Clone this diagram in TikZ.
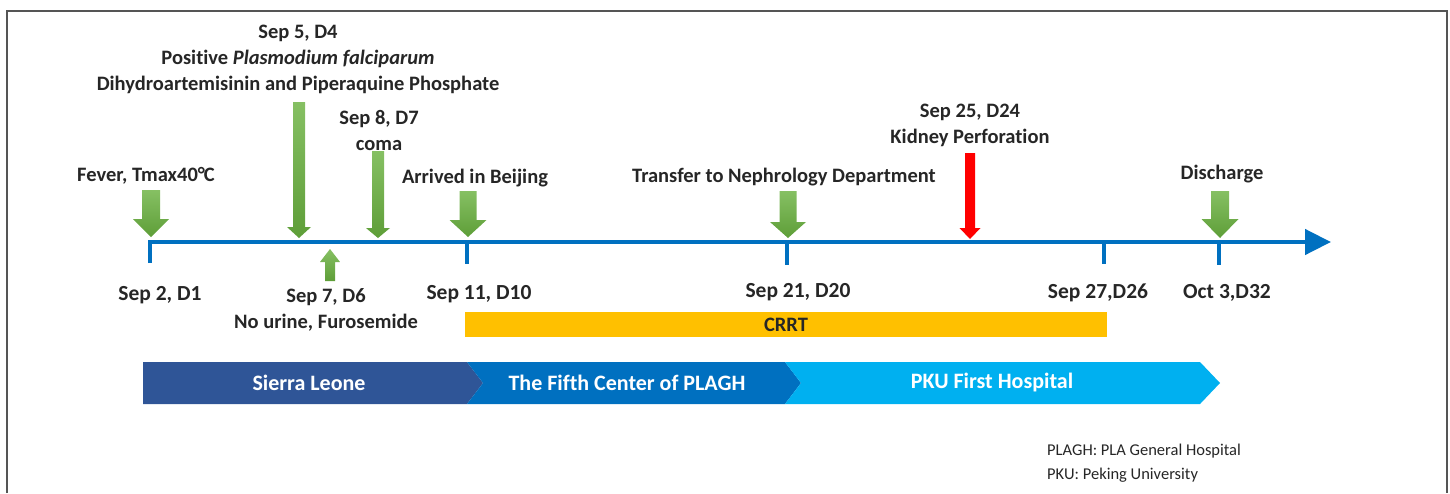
\documentclass[tikz,border=0pt]{standalone}
\usepackage{fontspec}
\setmainfont{Carlito}[Ligatures=NoCommon]
\usetikzlibrary{arrows.meta}
\definecolor{axisblue}{HTML}{0070C0}
\definecolor{darkblue}{HTML}{2F5597}
\definecolor{lightblue}{HTML}{00B0F0}
\definecolor{crrt}{HTML}{FFC000}
\definecolor{gtop}{HTML}{86C063}
\definecolor{gbot}{HTML}{5E9E38}
\definecolor{txt}{HTML}{262626}
\definecolor{framegray}{HTML}{555555}
\newcommand{\blockdown}[6]{({#1-#4},#2) -- ({#1+#4},#2) -- ({#1+#4},{#3-#6}) -- ({#1+#5},{#3-#6}) -- (#1,#3) -- ({#1-#5},{#3-#6}) -- ({#1-#4},{#3-#6}) -- cycle}
\begin{document}
\begin{tikzpicture}[x=1pt,y=-1pt,
  lbl/.style={font=\bfseries\fontsize{20.5}{26}\selectfont, align=center, text=txt, inner sep=0pt},
  datelbl/.style={font=\bfseries\fontsize{21.5}{26}\selectfont, align=center, text=txt, inner sep=0pt},
  legend/.style={font=\fontsize{16.5}{24}\selectfont, align=left, text=txt, inner sep=0pt, anchor=west},
  chevtext/.style={font=\bfseries\fontsize{22}{26}\selectfont, text=white, inner sep=0pt},
  garrow/.style={top color=gtop, bottom color=gbot, draw=none},
  rarrow/.style={fill=red, draw=none},
  axisline/.style={draw=axisblue, line width=4.5pt},
  tickline/.style={draw=axisblue, line width=3.5pt}]
\useasboundingbox (0,0) rectangle (1450,493);
% frame
\draw[framegray, line width=2pt] (7,493) -- (7,11) -- (1447,11) -- (1447,493);
% axis
\coordinate (t1) at (150,242);
\coordinate (t2) at (467,242);
\coordinate (t3) at (787,242);
\coordinate (t4) at (1104,242);
\coordinate (t5) at (1219,242);
\coordinate (axend) at (1331,242);
\draw[axisline, -{Triangle[length=26pt,width=25pt]}, line join=miter] (150,263) -- (t1) -- (axend);
\draw[tickline] (t2) -- ++(0,22);
\draw[tickline] (t3) -- ++(0,23);
\draw[tickline] (t4) -- ++(0,22);
\draw[tickline] (t5) -- ++(0,23);
% event arrows
\path[garrow] \blockdown{151}{190}{237}{9}{18}{18};
\path[garrow] \blockdown{299}{102}{238}{6}{12}{11};
\path[garrow] \blockdown{378}{151}{238}{6}{12}{10};
\path[garrow] \blockdown{468}{191}{237}{8.5}{18.5}{17};
\path[garrow] \blockdown{788}{191}{238}{8.5}{18}{16};
\path[rarrow] \blockdown{970}{153}{239}{5}{10.5}{11};
\path[garrow] \blockdown{1220}{191}{238}{9}{18.5}{19};
\path[garrow] \blockdown{330}{281}{249}{5}{10}{-13};
% labels above
\node[lbl] (fever) at (146,176) {Fever, Tmax40°\kern-0.05emC};
\node[lbl] (sep5) at (298,59) {Sep 5, D4\\Positive \textit{Plasmodium falciparum}\\Dihydroartemisinin and Piperaquine Phosphate};
\node[lbl] (sep8) at (379,130) {Sep 8, D7\\coma};
\node[lbl] (arrived) at (475,178) {Arrived in Beijing};
\node[lbl] (transfer) at (784,177) {Transfer to Nephrology Department};
\node[lbl] (sep25) at (970,125) {Sep 25, D24\\Kidney Perforation};
\node[lbl] (discharge) at (1222,174) {Discharge};
% labels below
\node[datelbl] (d1) at (160,295) {Sep 2, D1};
\node[lbl] (sep7) at (326,310) {Sep 7, D6\\No urine, Furosemide};
\node[datelbl] (d10) at (479,294) {Sep 11, D10};
\node[datelbl] (d20) at (798,292) {Sep 21, D20};
\node[datelbl] (d26) at (1098,293) {Sep 27,D26};
\node[datelbl] (d32) at (1227,293) {Oct 3,D32};
% CRRT bar
\fill[crrt] (465,312) rectangle (1107,337);
\node[lbl] (crrtlbl) at (786,325) {CRRT};
% chevrons
\fill[darkblue] (143,362) -- (467,362) -- (483,383) -- (467,404) -- (143,404) -- cycle;
\fill[axisblue] (467,362) -- (785,362) -- (801,383) -- (785,404) -- (467,404) -- (483,383) -- cycle;
\fill[lightblue] (785,362) -- (1200,362) -- (1220,383) -- (1200,404) -- (785,404) -- (801,383) -- cycle;
\node[chevtext] (sl) at (309,383) {Sierra Leone};
\node[chevtext] (fifth) at (627,383) {The Fifth Center of PLAGH};
\node[chevtext] (pku) at (992,383) {PKU First Hospital};
% legend
\node[legend] (leg1) at (1047,451) {PLAGH: PLA General Hospital};
\node[legend] (leg2) at (1047,475) {PKU: Peking University};
\end{tikzpicture}
\end{document}
